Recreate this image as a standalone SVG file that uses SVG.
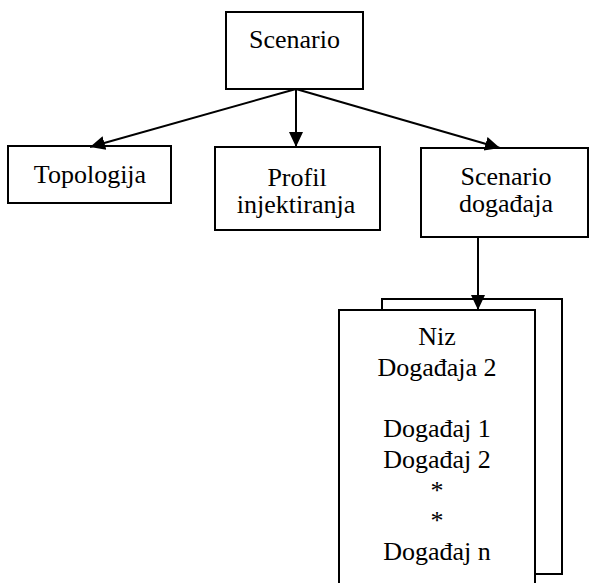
<svg xmlns="http://www.w3.org/2000/svg" width="589" height="583" viewBox="0 0 589 583">
<style>
.box{fill:#fff;stroke:#000;stroke-width:2}
.t{font-family:"Liberation Serif","Times New Roman",serif;font-size:26px;fill:#000;text-anchor:middle}
.c{stroke:#000;stroke-width:2;fill:none}
</style>
<defs>
<marker id="ah" markerUnits="userSpaceOnUse" markerWidth="16" markerHeight="16" viewBox="0 0 16 16" refX="15" refY="8" orient="auto">
<path d="M0,1 L15,8 L0,15 Z" fill="#000"/>
</marker>
</defs>
<rect width="589" height="583" fill="#fff"/>
<g id="scenario">
<rect class="box" x="226" y="12" width="137" height="77"/>
<text class="t" x="294.5" y="48">Scenario</text>
</g>
<g id="topologija">
<rect class="box" x="8" y="146" width="163" height="57"/>
<text class="t" x="90" y="183">Topologija</text>
</g>
<g id="profil">
<rect class="box" x="215" y="147" width="165" height="83"/>
<text class="t" x="297" y="186">Profil</text>
<text class="t" x="296" y="213">injektiranja</text>
</g>
<g id="scenario-dogadjaja">
<rect class="box" x="421" y="148" width="167" height="89"/>
<text class="t" x="506" y="185">Scenario</text>
<text class="t" x="506" y="212">događaja</text>
</g>
<g id="niz-dogadjaja">
<rect class="box" x="382" y="299" width="180" height="275"/>
<rect class="box" x="339" y="310" width="196" height="290"/>
<text class="t" x="437" y="345">Niz</text>
<text class="t" x="437" y="376">Događaja 2</text>
<text class="t" x="437" y="437">Događaj 1</text>
<text class="t" x="437" y="468">Događaj 2</text>
<text class="t" x="437" y="499">*</text>
<text class="t" x="437" y="529">*</text>
<text class="t" x="437" y="560">Događaj n</text>
</g>
<g id="connectors">
<line class="c" x1="296" y1="89" x2="90" y2="147" marker-end="url(#ah)"/>
<line class="c" x1="296" y1="89" x2="296" y2="147" marker-end="url(#ah)"/>
<line class="c" x1="296" y1="89" x2="500" y2="148" marker-end="url(#ah)"/>
<line class="c" x1="478" y1="237" x2="478" y2="310" marker-end="url(#ah)"/>
</g>
</svg>
